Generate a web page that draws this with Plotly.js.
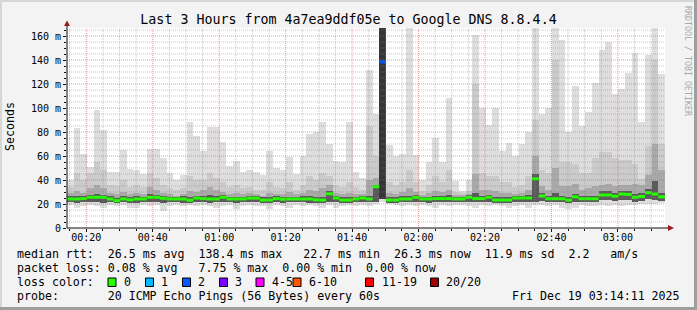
<!DOCTYPE html>
<html><head><meta charset="utf-8">
<script src="https://cdn.plot.ly/plotly-3.0.1.min.js"></script>
<style>
html,body{margin:0;padding:0;background:#f3f3f3;}
#wrap{position:relative;width:697px;height:310px;overflow:hidden;}
#chart{position:absolute;left:0;top:0;width:697px;height:310px;}
.b{position:absolute;pointer-events:none;}
</style></head><body>
<div id="wrap"><div id="chart"></div>
<div class="b" style="left:0;top:0;width:697px;height:2px;background:#d6d6d6"></div>
<div class="b" style="left:0;top:0;width:2px;height:310px;background:#d6d6d6"></div>
<div class="b" style="right:0;top:0;width:3px;height:310px;background:#9e9e9e"></div>
<div class="b" style="left:0;bottom:0;width:697px;height:3px;background:#9e9e9e"></div>
</div>
<script>
// ---- data: 2-minute samples starting 00:14:11, Fri Dec 19 2025 (ms) ----
const startUTC = Date.UTC(2025, 11, 19, 0, 14, 11);
const stepMinutes = 2;
const spanMinutes = 180;

const median = [
 24.2,24.2,24.5,25.6,25.6,25.6,24.2,22.8,24.2,23.5,
 24.2,24.2,25.6,25.6,24.8,24.2,24.2,24.2,23.2,25.0,
 24.5,24.2,24.2,25.6,24.2,24.2,24.2,24.9,24.9,23.3,
 23.3,24.5,24.0,24.2,24.2,24.2,24.2,23.5,23.3,28.5,
 25.0,23.3,23.3,24.2,25.0,24.2,34.4,138.4,23.3,23.3,
 24.2,24.2,25.6,24.2,24.2,24.5,24.5,24.5,24.2,24.2,
 25.6,24.5,24.5,25.6,23.3,23.3,23.3,25.0,25.0,25.0,
 41.0,26.7,24.4,24.4,24.4,23.3,26.0,24.4,24.4,24.4,
 27.5,27.5,26.5,28.3,28.0,25.6,26.3,29.4,28.3,26.0];

const lossCount = [
 0,0,0,0,0,0,0,0,0,0, 0,0,0,0,0,0,0,0,0,0,
 0,0,0,0,0,0,0,0,0,0, 0,0,0,0,0,0,0,0,0,0,
 0,0,0,0,0,0,0,2,0,0, 0,0,0,0,0,0,0,0,0,0,
 0,0,0,0,0,0,0,0,0,0, 0,0,0,0,0,0,0,0,0,0,
 0,0,0,0,0,0,0,0,0,0];

const pingMax = [
 40,83,62,51,98,82,47,47,65,49,
 48,45,66,66,58,46,40,44,88,77,
 64,84,84,72,52,56,47,48,47,44,
 64,50,48,59,45,60,78,80,88,70,
 56,55,88,47,42,132,95,167,69,60,
 62,167,61,40,55,75,55,108,39,31,
 40,161,100,86,100,64,71,60,70,80,
 167,95,100,167,157,80,118,85,97,121,
 148,155,112,116,129,146,88,144,167,128];

const pingMin = [
 19,17,18,19,18,17,19,18,19,17,
 16.5,19,18,19,14,18,19,18,19,18,
 19,18,17,18,19,16,18,19,18,18,
 16,19,18,17,19,18,19,18,17,19,
 17,18,19,18,19,18,20,22,20,19,
 18,19,18,19,18,17,19,18,19,19,
 18,17,19,18,19,18,17,18,19,17,
 19,19,18,19,17,16,17,19,18,18,
 19,18,19,18,19,19,20,20,20,21];

const upper90 = [
 34,46,40,46,55,48,36,35,40,34,
 36,34,46,42,36,33,32,33,43,40,
 40,46,42,38,34,36,33,34,32,32,
 38,34,33,38,32,36,43,40,46,43,
 36,34,38,34,32,85,60,167,38,36,
 38,48,38,31,36,43,38,48,30,29,
 31,120,46,43,43,38,38,34,36,43,
 90,48,46,140,55,55,53,46,46,58,
 63,63,58,57,57,53,41,68,140,70];

const upper75 = [
 29,31,29,33,36,33,29,28,30,28,
 29,28,34,32,29,28,27,28,31,30,
 32,34,32,30,28,29,28,29,28,27,
 29,28,28,30,28,29,32,31,33,36,
 29,28,29,28,28,40,42,167,29,28,
 30,33,30,27.5,29,31,30,32,27.5,27.5,
 28,45,32,32,31,29,29,28,29,32,
 60,35,32,50,35,35,37,32,33,35,
 36,37,35,36,36,37,36,44,70,48];

const upperCore = [
 26.5,26.5,26.5,27.5,28,27.5,26.5,25,26.5,25.5,
 26.5,26,28,27.5,26.5,26,26,26.5,25.5,27,
 26.5,27.5,26.5,27.5,26,26,26,26.5,26.5,25.5,
 25.5,26.5,26,26,26,26.5,27,25.5,25.5,30.5,
 27,25.5,25.5,26,27,26.5,36,167,25.5,25.5,
 26.5,27,27.5,26,26,26.5,26.5,27.5,26,26,
 27.5,29,26.5,27.5,25.5,25.5,25.5,27,27,27.5,
 45,29.5,26.5,29,26.5,25.5,28.5,26.5,26.5,27,
 30.5,30.5,29,30.5,30.5,28.5,29.5,32.5,39,29.5];

const lower25 = [
 21.5,21,21.5,22,21.5,21,21.5,20.5,21.5,21,
 21,21.5,22,22,21,21.5,21.5,21,20.5,21.5,
 21.5,21,21.5,22,21.5,21,21.5,21.5,22,20.5,
 20.5,21.5,21,21.5,21.5,21.5,21,21,20.5,22,
 21.5,20.5,20.5,21.5,22,21.5,22,24,20.5,20.5,
 21.5,21.5,22,21.5,21,21.5,21.5,21.5,21.5,21.5,
 22,21.5,21.5,22,20.5,20.5,20.5,21.5,22,21.5,
 22,22.5,21.5,21.5,21.5,20.5,22,21.5,21.5,21.5,
 23,23,22.5,23.5,23.5,22,22.5,24,23.5,22.5];

const yTickVals = [0,20,40,60,80,100,120,140,160];
const yTickText = ['0','20 m','40 m','60 m','80 m','100 m','120 m','140 m','160 m'];

const lossLabels = ['0','1','2','3','4-5','6-10','11-19','20/20'];
const lossColors = ['#26ff00','#00b8ff','#0059ff','#7e00ff','#ff00ff','#ff5500','#ff0000','#a10000'];
const lossUpper  = [0,1,2,3,5,10,19,20];

const titleText = 'Last 3 Hours from 4a7ea9ddf05e to Google DNS 8.8.4.4';
const statLines = [
 'median rtt:  26.5 ms avg  138.4 ms max   22.7 ms min  26.3 ms now  11.9 ms sd  2.2   am/s',
 'packet loss: 0.08 % avg   7.75 % max  0.00 % min  0.00 % now',
 'loss color:',
 'probe:       20 ICMP Echo Pings (56 Bytes) every 60s'];
const stampText = 'Fri Dec 19 03:14:11 2025';

// ---- geometry helpers (pixel -> paper) ----
const L = 67, R = 665, T = 28, B = 228;
const px = v => (v - L) / (R - L);
const py = v => (B - v) / (B - T);
const nb = s => s.replace(/ /g, '\u00a0');
const MONO = 'DejaVu Sans Mono';

const n = median.length;
const minute = 60000;
const centers = median.map((_, i) => startUTC + (i * stepMinutes + stepMinutes / 2) * minute);
const lefts = median.map((_, i) => startUTC + i * stepMinutes * minute);
const rights = median.map((_, i) => startUTC + (i + 1) * stepMinutes * minute);

function band(lo, hi, color) {
  return {type: 'bar', x: centers, base: lo, y: hi.map((h, i) => h - lo[i]),
    width: stepMinutes * minute, marker: {color: color, line: {width: 0}},
    hoverinfo: 'skip', showlegend: false};
}
// the innermost smoke gets darker when the whole burst sits high (all pings slow)
const coreShade = upperCore.map((h, i) => (h - lower25[i] > 60 ? '#363636' : '#5a5a5a'));
const traces = [
  band(pingMin, pingMax, '#dedede'),
  band(lower25, upper90, '#cbcbcb'),
  band(lower25, upper75, '#a9a9a9'),
  band(lower25, upperCore, coreShade)
];
// median segments coloured by loss
lossColors.forEach((c, ci) => {
  const xs = [], ys = [];
  for (let i = 0; i < n; i++) {
    const l = lossCount[i];
    const idx = lossUpper.findIndex(u => l <= u);
    if (idx === ci) { xs.push(lefts[i], rights[i], null); ys.push(median[i], median[i], null); }
  }
  if (xs.length) traces.push({type: 'scatter', mode: 'lines', x: xs, y: ys,
    line: {color: c, width: 3}, hoverinfo: 'skip', showlegend: false, connectgaps: false});
});

// ---- grid (drawn above smoke, like rrdtool) ----
const shapes = [];
const endUTC = startUTC + spanMinutes * minute;
const dayStart = Date.UTC(2025, 11, 19, 0, 0, 0);
for (let t = dayStart; t <= endUTC; t += 5 * minute) {
  if (t <= startUTC) continue;
  const major = ((t - dayStart) / minute) % 20 === 0;
  shapes.push({type: 'line', layer: 'above', xref: 'x', yref: 'paper', x0: t, x1: t, y0: 0, y1: 1,
    line: {color: major ? 'rgba(235,70,70,0.55)' : 'rgba(130,130,130,0.45)', width: 1, dash: '1px,1px'}});
}
for (let v = 5; v <= 166; v += 5) {
  const major = v % 20 === 0;
  shapes.push({type: 'line', layer: 'above', xref: 'paper', yref: 'y', x0: 0, x1: 1, y0: v, y1: v,
    line: {color: major ? 'rgba(235,70,70,0.55)' : 'rgba(130,130,130,0.45)', width: 1, dash: '1px,1px'}});
}
// axes with arrows
shapes.push({type: 'line', layer: 'above', xref: 'paper', yref: 'paper', x0: 0, x1: px(668), y0: 0, y1: 0, line: {color: '#111', width: 1}});
shapes.push({type: 'line', layer: 'above', xref: 'paper', yref: 'paper', x0: 0, x1: 0, y0: 0, y1: py(26), line: {color: '#111', width: 1}});
shapes.push({type: 'path', layer: 'above', xref: 'paper', yref: 'paper',
  path: `M ${px(64)} ${py(26)} L ${px(70)} ${py(26)} L ${px(67)} ${py(20.5)} Z`, fillcolor: '#9c1c1c', line: {width: 0}});
shapes.push({type: 'path', layer: 'above', xref: 'paper', yref: 'paper',
  path: `M ${px(668)} ${py(225)} L ${px(668)} ${py(231)} L ${px(674)} ${py(228)} Z`, fillcolor: '#9c1c1c', line: {width: 0}});

// loss colour boxes + labels
const boxX = [108, 145.5, 182.5, 219.5, 256, 293, 365.5, 430.5];
const labX = [123, 160, 197, 234, 271, 308, 380.5, 445];
const annotations = [];
lossLabels.forEach((lab, i) => {
  shapes.push({type: 'rect', layer: 'above', xref: 'paper', yref: 'paper',
    x0: px(boxX[i]), x1: px(boxX[i] + 8), y0: py(286.5), y1: py(278),
    fillcolor: lossColors[i], line: {color: '#000', width: 1}});
  annotations.push({xref: 'paper', yref: 'paper', x: px(labX[i] - 1), y: py(282), xanchor: 'left', yanchor: 'middle',
    text: nb(lab), showarrow: false, font: {family: MONO, size: 11.6, color: '#000'}});
});
const lineY = [254, 268, 282, 296];
statLines.forEach((s, i) => {
  annotations.push({xref: 'paper', yref: 'paper', x: px(15), y: py(lineY[i]), xanchor: 'left', yanchor: 'middle',
    text: nb(s), showarrow: false, font: {family: MONO, size: 11.6, color: '#000'}});
});
annotations.push({xref: 'paper', yref: 'paper', x: px(682), y: py(296), xanchor: 'right', yanchor: 'middle',
  text: nb(stampText), showarrow: false, font: {family: MONO, size: 11.6, color: '#000'}});
annotations.push({xref: 'paper', yref: 'paper', x: px(10), y: py(127), xanchor: 'center', yanchor: 'middle',
  text: 'Seconds', textangle: -90, showarrow: false, font: {family: MONO, size: 11.6, color: '#000'}});
annotations.push({xref: 'paper', yref: 'paper', x: px(688), y: py(61), xanchor: 'center', yanchor: 'middle',
  text: nb('RRDTOOL / TOBI OETIKER'), textangle: 90, showarrow: false, font: {family: MONO, size: 8.3, color: '#a9a9a9'}});

const layout = {
  width: 697, height: 310,
  margin: {l: L, r: 697 - R, t: T, b: 310 - B, pad: 0},
  paper_bgcolor: '#f3f3f3', plot_bgcolor: '#ffffff',
  barmode: 'overlay', bargap: 0, showlegend: false,
  title: {text: titleText, font: {family: MONO, size: 13.3, color: '#000'},
    xref: 'container', yref: 'container', x: 0.5, y: 1 - 19 / 310, xanchor: 'center', yanchor: 'middle'},
  xaxis: {type: 'date', range: [startUTC, endUTC], tick0: dayStart, dtick: 20 * minute, tickformat: '%H:%M',
    showgrid: false, zeroline: false, showline: false, ticks: 'outside', ticklen: 3, tickcolor: '#111',
    ticklabelstandoff: -3,
    minor: {dtick: 5 * minute, tick0: dayStart, ticks: 'outside', ticklen: 2, tickcolor: '#111', showgrid: false},
    tickfont: {family: MONO, size: 10, color: '#000'}, fixedrange: true},
  yaxis: {range: [0, 166.667], tickmode: 'array', tickvals: yTickVals, ticktext: yTickText,
    showgrid: false, zeroline: false, showline: false, ticks: 'outside', ticklen: 3, tickcolor: '#111',
    minor: {dtick: 5, tick0: 0, ticks: 'outside', ticklen: 2, tickcolor: '#111', showgrid: false},
    tickfont: {family: MONO, size: 10, color: '#000'}, fixedrange: true},
  shapes: shapes, annotations: annotations
};
Plotly.newPlot('chart', traces, layout, {displayModeBar: false, staticPlot: true});
</script>
</body></html>
